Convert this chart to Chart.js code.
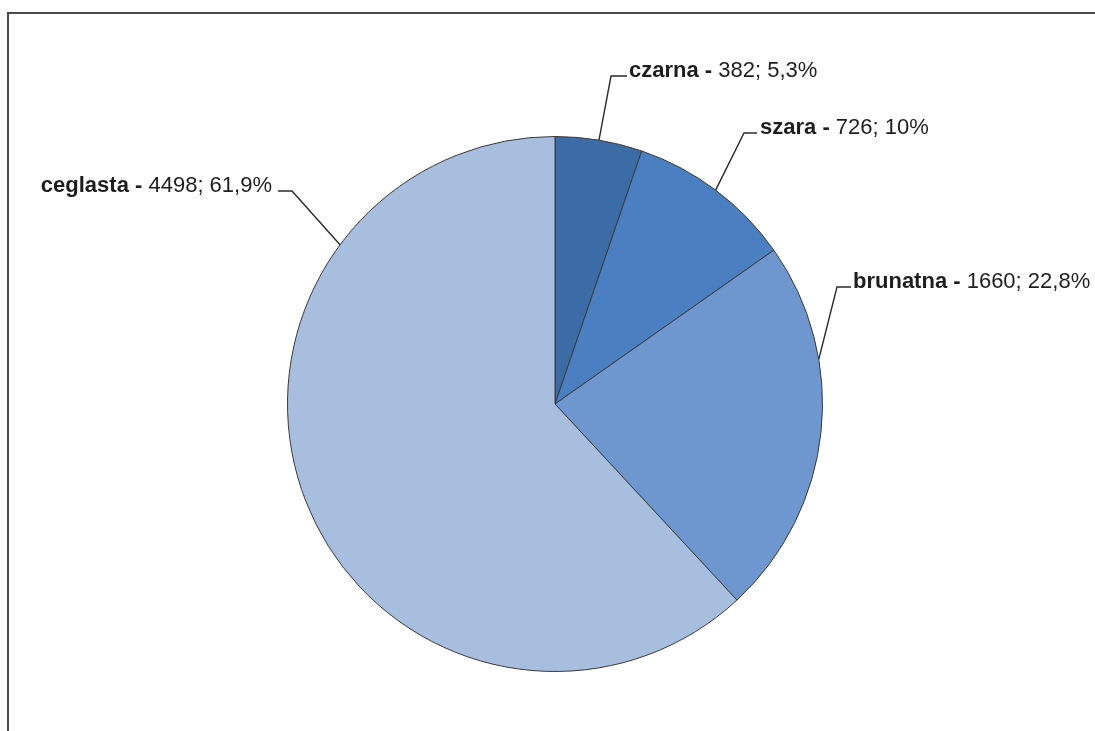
<!DOCTYPE html>
<html>
<head>
<meta charset="utf-8">
<script src="https://cdn.jsdelivr.net/npm/chart.js@4.4.1/dist/chart.umd.min.js"></script>
<style>
  html, body { margin: 0; padding: 0; background: #ffffff; }
  body { width: 1095px; height: 731px; position: relative; overflow: hidden; }
  #frame { position: absolute; left: 7px; top: 12px; width: 1200px; height: 800px;
           border-top: 2px solid #4a4a4a; border-left: 2px solid #4a4a4a; box-sizing: border-box; }
  #c { position: absolute; left: 0; top: 0; }
</style>
</head>
<body>
<div id="frame"></div>
<canvas id="c" width="1095" height="731"></canvas>
<script>
// ---- data ----
const categories = ['czarna', 'szara', 'brunatna', 'ceglasta'];
const counts = [382, 726, 1660, 4498];
const sliceColors = ['#3b6ca6', '#4a80c2', '#6e97cf', '#a8bede'];

// ---- label layout (style/positions, offsets from pie centre) ----
const labelLayout = [
  { frac: 0.50, elbow: [56, -328],  stubEnd: 72,   textX: 74,   align: 'left'  },
  { frac: 0.50, elbow: [189, -271], stubEnd: 202,  textX: 205,  align: 'left'  },
  { frac: 0.31, elbow: [282, -117], stubEnd: 296,  textX: 298,  align: 'left'  },
  { frac: 0.76, elbow: [-263, -213], stubEnd: -277, textX: -283, align: 'right' }
];

function fmtPct(v, total) {
  const p = Math.round(v / total * 1000) / 10;
  let s = p.toFixed(1);
  if (s.endsWith('.0')) s = s.slice(0, -2);
  return s.replace('.', ',') + '%';
}

const leaderPlugin = {
  id: 'leaderLabels',
  afterDatasetsDraw(chart) {
    const ctx = chart.ctx;
    const meta = chart.getDatasetMeta(0);
    const data = chart.data.datasets[0].data;
    const total = data.reduce((a, b) => a + b, 0);
    ctx.save();
    meta.data.forEach((arc, i) => {
      const L = labelLayout[i];
      const cx = arc.x, cy = arc.y, R = arc.outerRadius;
      const ang = arc.startAngle + (arc.endAngle - arc.startAngle) * L.frac;
      const ax = cx + Math.cos(ang) * R, ay = cy + Math.sin(ang) * R;
      const ex = cx + L.elbow[0], ey = cy + L.elbow[1];
      ctx.strokeStyle = '#2b2b2b';
      ctx.lineWidth = 1.4;
      ctx.beginPath();
      ctx.moveTo(ax, ay);
      ctx.lineTo(ex, ey);
      ctx.lineTo(cx + L.stubEnd, ey);
      ctx.stroke();
      const bold = chart.data.labels[i] + ' - ';
      const rest = data[i] + '; ' + fmtPct(data[i], total);
      const boldFont = 'bold 22px "Liberation Sans", Arial, sans-serif';
      const regFont = '22px "Liberation Sans", Arial, sans-serif';
      ctx.fillStyle = '#1e1e1e';
      ctx.textBaseline = 'alphabetic';
      ctx.textAlign = 'left';
      ctx.font = boldFont; const wb = ctx.measureText(bold).width;
      ctx.font = regFont; const wr = ctx.measureText(rest).width;
      let x0 = cx + L.textX;
      if (L.align === 'right') x0 -= (wb + wr);
      const by = ey + 1;
      ctx.font = boldFont; ctx.fillText(bold, x0, by);
      ctx.font = regFont; ctx.fillText(rest, x0 + wb, by);
    });
    ctx.restore();
  }
};

new Chart(document.getElementById('c'), {
  type: 'pie',
  data: {
    labels: categories,
    datasets: [{
      data: counts,
      backgroundColor: sliceColors,
      borderColor: '#3a3a3a',
      borderWidth: 1,
      hoverOffset: 0
    }]
  },
  options: {
    responsive: false,
    animation: false,
    layout: { padding: { top: 136, bottom: 59, left: 100, right: 85 } },
    plugins: { legend: { display: false }, tooltip: { enabled: false } }
  },
  plugins: [leaderPlugin]
});
</script>
</body>
</html>
